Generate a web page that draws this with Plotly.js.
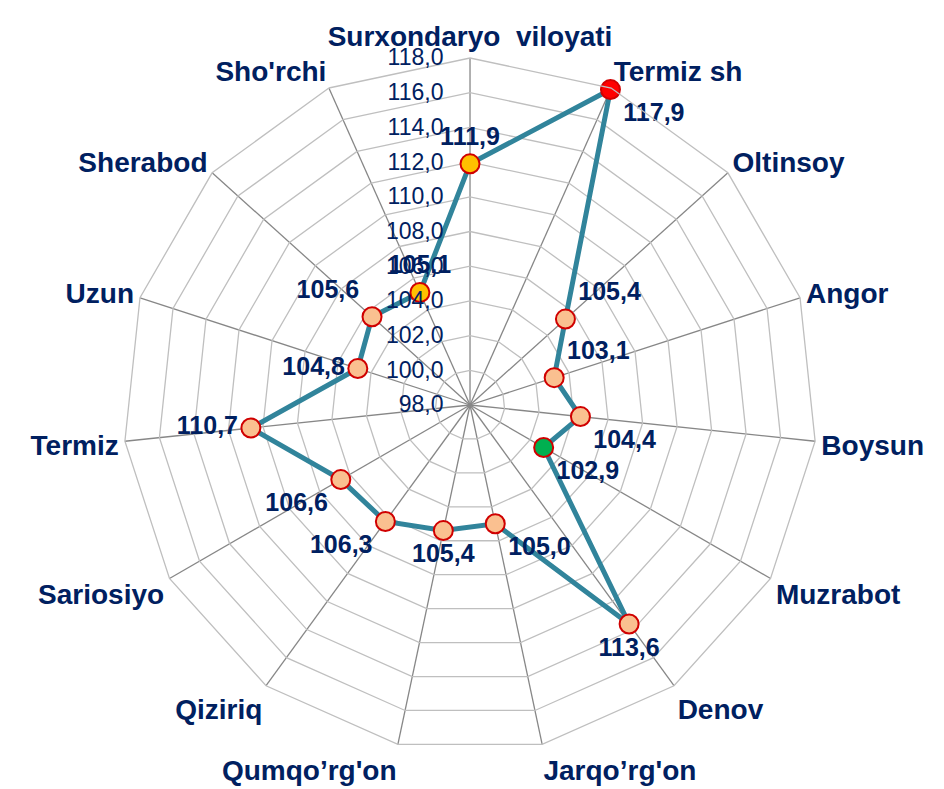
<!DOCTYPE html>
<html>
<head>
<meta charset="utf-8">
<script src="https://cdn.plot.ly/plotly-3.0.1.min.js"></script>
<style>html,body{margin:0;padding:0;background:#fff;}#chart{width:944px;height:789px;}</style>
</head>
<body>
<div id="chart"></div>
<script>
const categories = ["Surxondaryo\u00A0 viloyati", "Termiz sh", "Oltinsoy", "Angor", "Boysun", "Muzrabot", "Denov", "Jarqo\u2019rg'on", "Qumqo\u2019rg'on", "Qiziriq", "Sariosiyo", "Termiz", "Uzun", "Sherabod", "Sho'rchi"];
const values = [111.9, 117.9, 105.4, 103.1, 104.4, 102.9, 113.6, 105.0, 105.4, 106.3, 106.6, 110.7, 104.8, 105.6, 105.1];
const labelText = ["111,9", "117,9", "105,4", "103,1", "104,4", "102,9", "113,6", "105,0", "105,4", "106,3", "106,6", "110,7", "104,8", "105,6", "105,1"];
const labelPos = ["top center", "bottom right", "top right", "top right", "bottom right", "bottom right", "bottom center", "bottom right", "bottom center", "bottom left", "bottom left", "middle left", "middle left", "top left", "top center"];
const markerColors = ["#FFC000", "#FF0000", "#FAC090", "#FAC090", "#FAC090", "#00B050", "#FAC090", "#FAC090", "#FAC090", "#FAC090", "#FAC090", "#FAC090", "#FAC090", "#FAC090", "#FFC000"];
const radialTicks = [98, 100, 102, 104, 106, 108, 110, 112, 114, 116, 118];

const navy = "#002060";
const closedTheta = categories.concat([categories[0]]);
const closedR = values.concat([values[0]]);

const traces = [
  {
    type: "scatterpolar",
    r: closedR,
    theta: closedTheta,
    mode: "lines",
    line: {color: "#31849B", width: 5},
    hoverinfo: "skip",
    showlegend: false
  },
  {
    type: "scatterpolar",
    r: values,
    theta: categories,
    mode: "markers+text",
    text: labelText,
    textposition: labelPos,
    cliponaxis: false,
    textfont: {family: "Liberation Sans, Arial, sans-serif", size: 25, color: navy, weight: "bold"},
    marker: {size: 19, color: markerColors, line: {color: "#D00000", width: 2}},
    showlegend: false
  }
];

const layout = {
  width: 944,
  height: 789,
  margin: {l: 0, r: 0, t: 0, b: 0},
  paper_bgcolor: "#ffffff",
  separators: ", ",
  showlegend: false,
  font: {family: "Liberation Sans, Arial, sans-serif", color: navy},
  polar: {
    domain: {x: [0.1303, 0.8655], y: [0.0469, 0.9265]},
    gridshape: "linear",
    bgcolor: "#ffffff",
    angularaxis: {
      type: "category",
      categoryarray: categories,
      direction: "clockwise",
      rotation: 90,
      gridcolor: "#878787",
      gridwidth: 1.3,
      showline: true,
      linecolor: "#BFBFBF",
      linewidth: 1.3,
      ticks: "",
      tickfont: {family: "Liberation Sans, Arial, sans-serif", size: 28, color: navy, weight: "bold"}
    },
    radialaxis: {
      range: [98, 118],
      tickvals: radialTicks,
      tickformat: ".1f",
      angle: 90,
      tickangle: 90,
      side: "counterclockwise",
      showline: false,
      ticks: "outside",
      ticklen: 18,
      tickcolor: "rgba(0,0,0,0)",
      gridcolor: "#BFBFBF",
      gridwidth: 1.3,
      tickfont: {family: "Liberation Sans, Arial, sans-serif", size: 23, color: navy}
    }
  }
};

Plotly.newPlot("chart", traces, layout, {displayModeBar: false, staticPlot: true});
</script>
</body>
</html>
